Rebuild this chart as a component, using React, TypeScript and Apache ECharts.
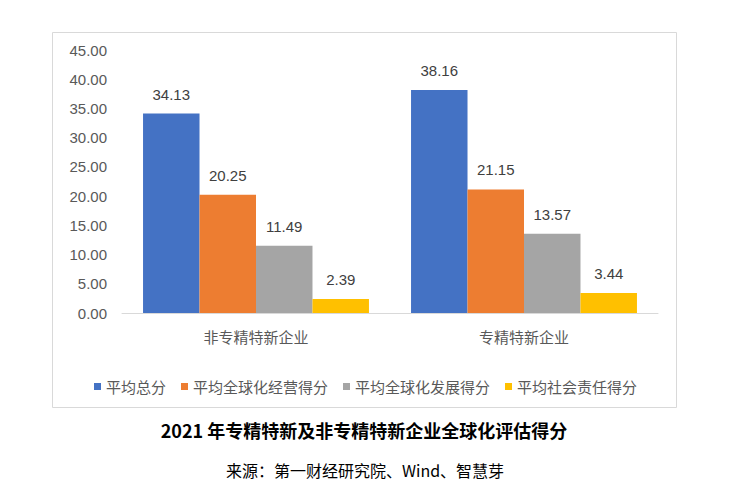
import React, { useEffect, useRef } from "react";
import * as echarts from "echarts";

const categories = ["非专精特新企业", "专精特新企业"];
const seriesNames = ["平均总分", "平均全球化经营得分", "平均全球化发展得分", "平均社会责任得分"];
const seriesValues = [
  [34.13, 38.16],
  [20.25, 21.15],
  [11.49, 13.57],
  [2.39, 3.44],
];
const colors = ["#4472C4", "#ED7D31", "#A5A5A5", "#FFC000"];
const title = "2021 年专精特新及非专精特新企业全球化评估得分";
const source = "来源：第一财经研究院、Wind、智慧芽";

export default function App() {
  const ref = useRef<HTMLDivElement>(null);
  useEffect(() => {
    if (!ref.current) return;
    const chart = echarts.init(ref.current, undefined, { renderer: "svg" });
    const cjk = "'Noto Sans CJK SC', sans-serif";
    const num = "'Liberation Sans', 'Noto Sans CJK SC', sans-serif";
    chart.setOption({
      animation: false,
      textStyle: { fontFamily: cjk },
      grid: { left: 122, right: 73, top: 50, bottom: 188, containLabel: false },
      legend: {
        top: 374,
        left: "center",
        itemWidth: 7,
        itemHeight: 7,
        itemGap: 15,
        icon: "rect",
        textStyle: { fontSize: 15, color: "#595959", fontFamily: cjk },
        data: seriesNames,
      },
      xAxis: {
        type: "category",
        data: categories,
        axisLine: { lineStyle: { color: "#d9d9d9" } },
        axisTick: { show: false },
        axisLabel: { fontSize: 15, color: "#595959", margin: 16, fontFamily: cjk },
      },
      yAxis: {
        type: "value",
        min: 0,
        max: 45,
        interval: 5,
        splitLine: { show: false },
        axisLine: { show: false },
        axisTick: { show: false },
        axisLabel: {
          fontSize: 15,
          color: "#595959",
          margin: 15,
          formatter: (v: number) => v.toFixed(2),
          fontFamily: num,
        },
      },
      series: seriesNames.map((name, i) => ({
        name,
        type: "bar",
        data: seriesValues[i],
        barGap: "0%",
        barCategoryGap: "15.7%",
        itemStyle: { color: colors[i] },
        label: {
          show: true,
          position: "top",
          distance: 12,
          fontSize: 15,
          color: "#404040",
          fontFamily: num,
          formatter: (p: any) => p.value.toFixed(2),
        },
      })),
      graphic: [
        {
          type: "rect",
          shape: { x: 52.5, y: 32.5, width: 624, height: 375 },
          style: { fill: "none", stroke: "#d9d9d9", lineWidth: 1 },
          silent: true,
          z: -1,
        },
        {
          type: "text",
          x: 364,
          y: 430,
          style: {
            text: title,
            fill: "#000",
            font: "bold 18px 'Noto Sans CJK SC', sans-serif",
            textAlign: "center",
            textVerticalAlign: "middle",
          },
        },
        {
          type: "text",
          x: 365,
          y: 470,
          style: {
            text: source,
            fill: "#000",
            font: "16px 'Noto Sans CJK SC', sans-serif",
            textAlign: "center",
            textVerticalAlign: "middle",
          },
        },
      ],
    });
    return () => chart.dispose();
  }, []);
  return (
    <div
      ref={ref}
      style={{ position: "absolute", left: 0, top: 0, width: 731, height: 501, background: "#fff" }}
    />
  );
}
